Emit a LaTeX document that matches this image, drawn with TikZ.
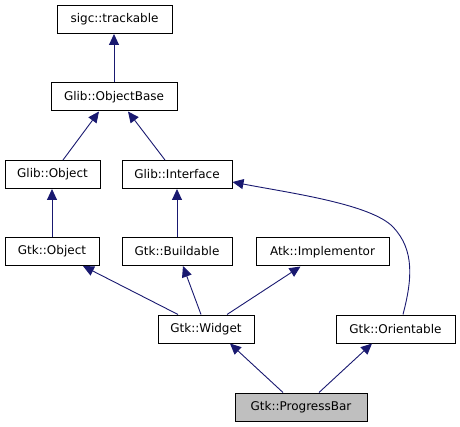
\documentclass[tikz,border=0pt]{standalone}
\usepackage{fontspec}
\setmainfont{DejaVu Sans}
\usetikzlibrary{arrows.meta,calc}
\definecolor{edgeblue}{HTML}{191970}
\definecolor{boxgray}{HTML}{BFBFBF}
\begin{document}
\begin{tikzpicture}[x=1pt,y=-1pt,
  cls/.style={draw=black,line width=1pt,fill=white,minimum height=28pt,inner sep=0pt,
    font=\fontsize{12}{14}\selectfont},
  edge/.style={draw=edgeblue,line width=0.9pt,-{Triangle[length=11pt,width=10pt]}},
]
\useasboundingbox (0,0) rectangle (460,427);
\node[cls,minimum width=115pt] (track) at (114.5,19.5) {sigc::trackable};
\node[cls,minimum width=126pt] (obase) at (114,97) {Glib::ObjectBase};
\node[cls,minimum width=95pt] (gobj) at (52.5,174.5) {Glib::Object};
\node[cls,minimum width=110pt] (iface) at (177,174.5) {Glib::Interface};
\node[cls,minimum width=94pt] (gtkobj) at (52,251.5) {Gtk::Object};
\node[cls,minimum width=110pt] (build) at (177,251.5) {Gtk::Buildable};
\node[cls,minimum width=133pt] (atk) at (322.5,252) {Atk::Implementor};
\node[cls,minimum width=96pt] (widget) at (206,329) {Gtk::Widget};
\node[cls,minimum width=119pt] (orient) at (395.5,329) {Gtk::Orientable};
\node[cls,minimum width=132pt,fill=boxgray] (pbar) at (301,407) {Gtk::ProgressBar};

\draw[edge] (obase.north) -- (obase.north |- track.south);
\draw[edge] ($(gobj.north)+(10.5,0)$) -- ($(obase.south)+(-15,0)$);
\draw[edge] ($(iface.north)+(-12,0)$) -- ($(obase.south)+(14,0)$);
\draw[edge] (gtkobj.north) -- (gtkobj.north |- gobj.south);
\draw[edge] (build.north) -- (build.north |- iface.south);
\draw[edge] ($(widget.north)+(-28,0)$) -- ($(gtkobj.south)+(31,0)$);
\draw[edge] ($(widget.north)+(-5,0)$) -- ($(build.south)+(6,0)$);
\draw[edge] ($(widget.north)+(21,0)$) -- ($(atk.south)+(-22,0)$);
\draw[edge] ($(pbar.north)+(-18,0)$) -- ($(widget.south)+(24,0)$);
\draw[edge] ($(pbar.north)+(18,0)$) -- ($(orient.south)+(-23.5,0)$);
\draw[edge] ($(orient.north)+(7.5,0)$) .. controls (412,280) and (415,250) .. (393,227)
  .. controls (371,204) and (290,193) .. ($(iface.east)+(0,7.5)$);
\end{tikzpicture}
\end{document}
